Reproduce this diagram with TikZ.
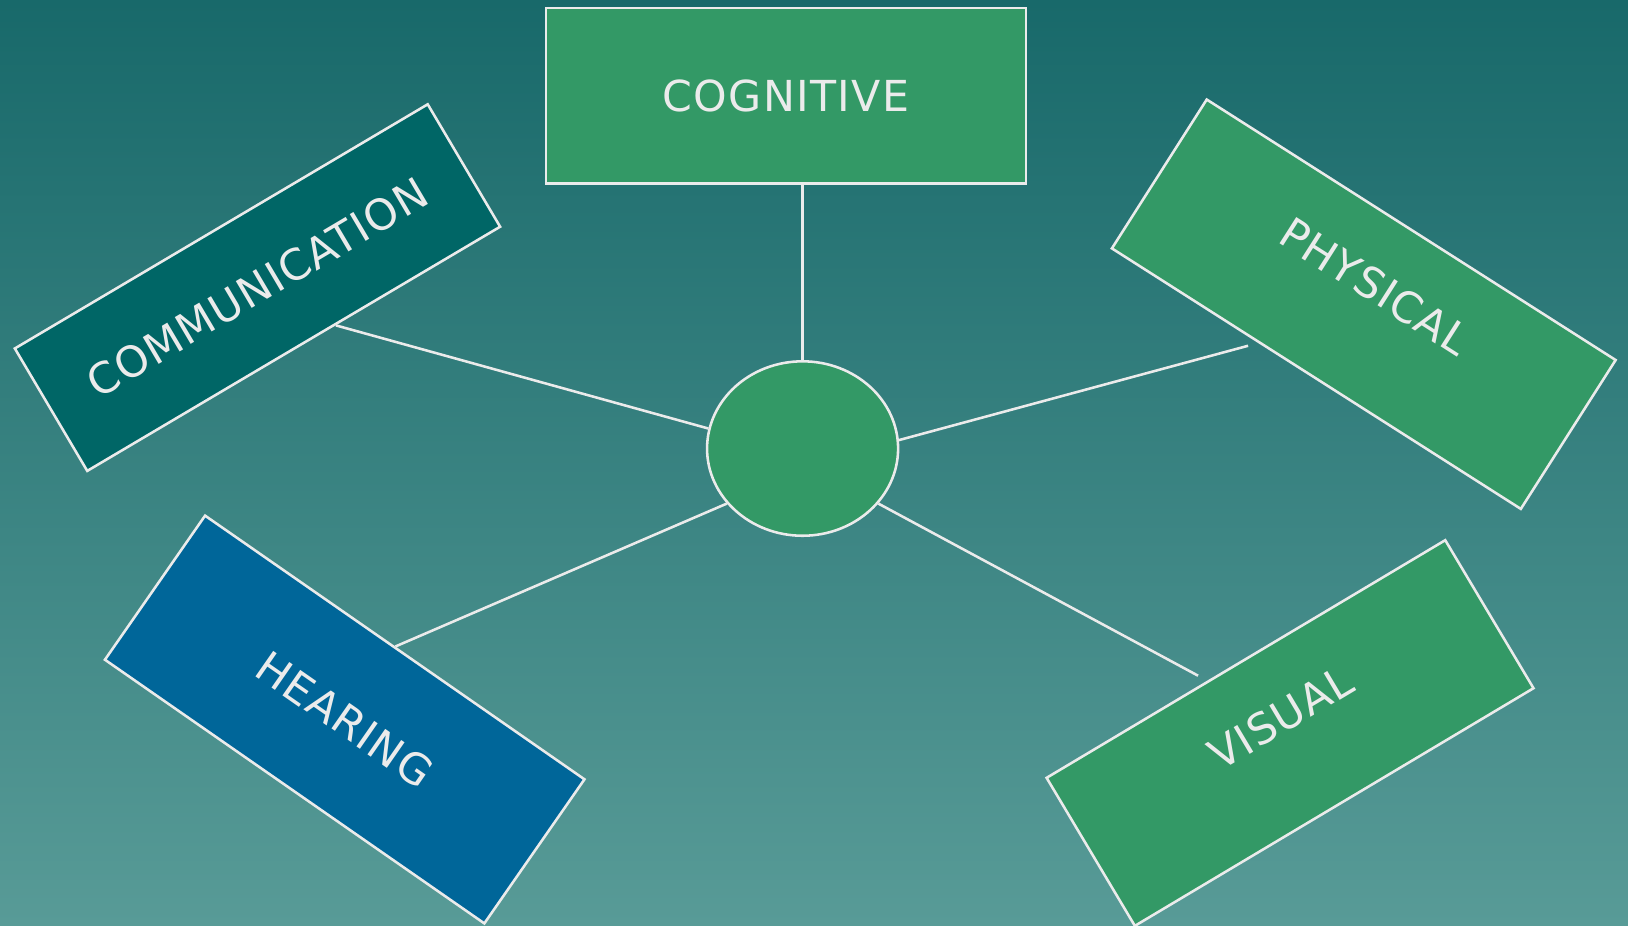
\documentclass[tikz,border=0pt]{standalone}
\usepackage{fontspec}
\setmainfont{DejaVu Sans}[LetterSpace=3]
\usetikzlibrary{shapes.geometric,calc}
\definecolor{bgtop}{RGB}{24,105,106}
\definecolor{bgbot}{RGB}{88,155,151}
\definecolor{edge}{RGB}{235,235,235}
\definecolor{leaf}{RGB}{51,153,102}
\definecolor{deepteal}{RGB}{0,102,102}
\definecolor{sea}{RGB}{0,102,153}

\begin{document}
\begin{tikzpicture}[
    box/.style={draw=edge,line width=0.7pt,text=edge,font=\fontsize{11.7}{14}\selectfont},
    lift/.style={text height=0.30cm,text depth=#1},
    link/.style={draw=edge,line width=0.7pt}
]
\useasboundingbox (0,0) rectangle (15.68,8.91);
\shade[top color=bgtop,bottom color=bgbot] (0,0) rectangle (15.68,8.91);

% the five groups round the middle
\node[box,fill=leaf,minimum width=4.62cm,minimum height=1.69cm] (cog) at (7.57,7.99) {COGNITIVE};
\node[box,fill=deepteal,rotate=30.6,minimum width=4.62cm,minimum height=1.37cm] (comm) at (2.48,6.14) {COMMUNICATION};
\node[box,fill=leaf,rotate=-32.5,lift=0.41cm,minimum width=4.67cm,minimum height=1.70cm] (phys) at (13.135,5.98) {PHYSICAL};
\node[box,fill=sea,rotate=-34.8,minimum width=4.45cm,minimum height=1.69cm] (hear) at (3.32,1.98) {HEARING};
\node[box,fill=leaf,rotate=30.8,lift=0.35cm,minimum width=4.47cm,minimum height=1.66cm] (vis) at (12.425,1.85) {VISUAL};

\node[ellipse,draw=edge,line width=0.7pt,fill=leaf,minimum width=1.84cm,minimum height=1.68cm,inner sep=0pt] (hub) at (7.73,4.59) {};

\draw[link] (hub.north) -- (hub.north |- cog.south);
\draw[link] (hub.168) -- ($(comm.south)!0.2!(comm.south east)$);
\draw[link,shorten >=0.1cm] (hub.5.6) -- ($(phys.south)!0.28!(phys.south west)$);
\draw[link] (hub.216) -- (hear.north);
\draw[link,shorten >=0.1cm] (hub.324.5) -- ($(vis.north)!0.19!(vis.north west)$);
\end{tikzpicture}
\end{document}
